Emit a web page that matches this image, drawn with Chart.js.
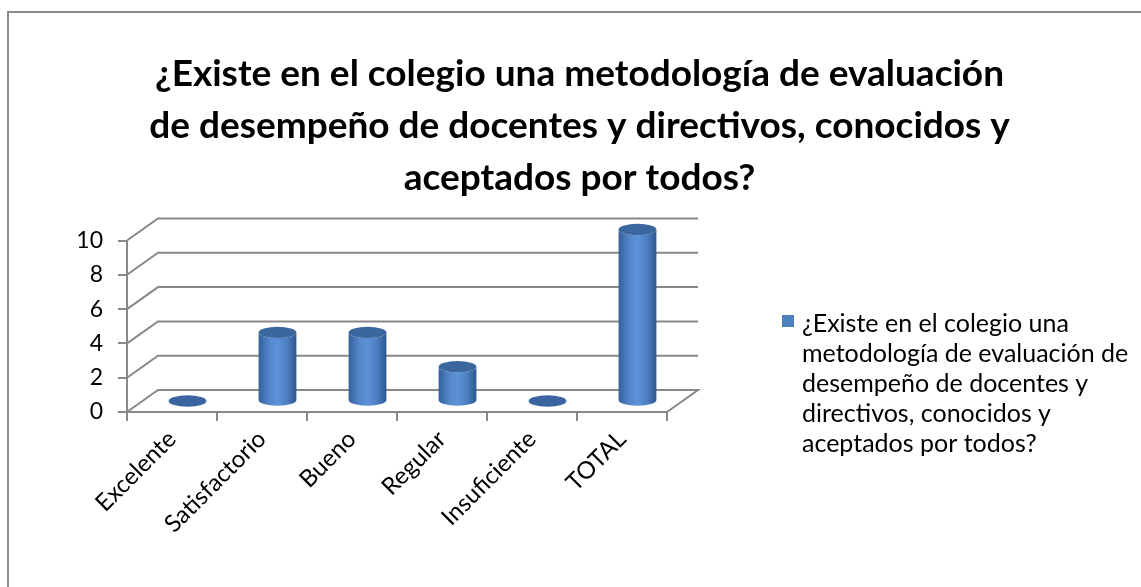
<!DOCTYPE html>
<html>
<head>
<meta charset="utf-8">
<title>Evaluación de desempeño</title>
<script src="https://cdn.jsdelivr.net/npm/chart.js@4.4.1/dist/chart.umd.min.js"></script>
<style>
  html, body { margin: 0; padding: 0; background: #fff; }
  #wrap { position: relative; width: 1141px; height: 587px; }
  #frame {
    position: absolute; left: 7px; top: 11px; right: 0; bottom: 0;
    border-left: 2px solid #8c8c8c; border-top: 2px solid #8c8c8c;
    pointer-events: none;
  }
</style>
</head>
<body>
<div id="wrap">
  <canvas id="chart"></canvas>
  <div id="frame"></div>
</div>
<script>
  // Data
  const categories = ['Excelente', 'Satisfactorio', 'Bueno', 'Regular', 'Insuficiente', 'TOTAL'];
  const values = [0, 4, 4, 2, 0, 10];
  const seriesLabel = '¿Existe en el colegio una metodología de evaluación de desempeño de docentes y directivos, conocidos y aceptados por todos?';
  const titleLines = [
    '¿Existe en el colegio una metodología de evaluación',
    'de desempeño de docentes y directivos, conocidos y',
    'aceptados por todos?'
  ];
  const legendLines = [
    '¿Existe en el colegio una',
    'metodología de evaluación de',
    'desempeño de docentes y',
    'directivos, conocidos y',
    'aceptados por todos?'
  ];

  // 3D look
  const DEPTH_X = 31;
  const DEPTH_Y = 22;
  const GRID_COLOR = '#888888';
  const SERIES_COLOR = '#4f81bd';
  const FONT = 'Lato, "Open Sans", sans-serif';

  Chart.defaults.font.family = FONT;
  Chart.defaults.color = '#000';

  // back wall + side wall + floor drawn from the y scale ticks
  const wallPlugin = {
    id: 'wall3d',
    beforeDatasetsDraw(chart) {
      const { ctx, chartArea: a, scales: { y } } = chart;
      ctx.save();
      ctx.strokeStyle = GRID_COLOR;
      ctx.lineWidth = 2;
      y.ticks.forEach(t => {
        const py = y.getPixelForValue(t.value);
        ctx.beginPath();
        ctx.moveTo(a.left, py);
        ctx.lineTo(a.left + DEPTH_X, py - DEPTH_Y);
        ctx.lineTo(a.right + DEPTH_X, py - DEPTH_Y);
        if (t.value === y.min) ctx.lineTo(a.right, py);
        ctx.stroke();
      });
      ctx.restore();
    }
  };

  // bars as cylinders, placed halfway into the depth
  const cylinderPlugin = {
    id: 'cylinders',
    afterDatasetsDraw(chart) {
      const { ctx } = chart;
      const meta = chart.getDatasetMeta(0);
      ctx.save();
      meta.data.forEach((bar, i) => {
        const cx = bar.x + DEPTH_X / 2;
        const r = bar.width / 2;
        const ry = r * 0.3;
        const top = bar.y - DEPTH_Y / 2;
        const base = bar.base - DEPTH_Y / 2;
        if (values[i] === 0) {
          ctx.fillStyle = '#3a65a0';
          ctx.beginPath();
          ctx.ellipse(cx, base, r, ry, 0, 0, Math.PI * 2);
          ctx.fill();
          return;
        }
        const g = ctx.createLinearGradient(cx - r, 0, cx + r, 0);
        g.addColorStop(0, '#33609a');
        g.addColorStop(0.3, '#5688cc');
        g.addColorStop(0.5, '#5d92d9');
        g.addColorStop(0.75, '#4d7ec0');
        g.addColorStop(1, '#2c5890');
        ctx.fillStyle = g;
        ctx.beginPath();
        ctx.moveTo(cx - r, top);
        ctx.lineTo(cx - r, base);
        ctx.ellipse(cx, base, r, ry, 0, Math.PI, 0, true);
        ctx.lineTo(cx + r, top);
        ctx.ellipse(cx, top, r, ry, 0, 0, Math.PI, false);
        ctx.closePath();
        ctx.fill();
        ctx.fillStyle = '#3b679f';
        ctx.beginPath();
        ctx.ellipse(cx, top, r, ry, 0, 0, Math.PI * 2);
        ctx.fill();
      });
      ctx.restore();
    }
  };

  // wrapped legend on the right
  const legendPlugin = {
    id: 'wrapLegend',
    afterDraw(chart) {
      const { ctx, chartArea: a } = chart;
      const x0 = a.right + 115;
      const y0 = 324;
      ctx.save();
      ctx.fillStyle = SERIES_COLOR;
      ctx.fillRect(x0, y0 - 9, 12, 12);
      ctx.fillStyle = '#000';
      ctx.font = '25px ' + FONT;
      ctx.textBaseline = 'middle';
      legendLines.forEach((line, i) => {
        ctx.fillText(line, x0 + 20, y0 + i * 30);
      });
      ctx.restore();
    }
  };

  new Chart(document.getElementById('chart'), {
    type: 'bar',
    data: {
      labels: categories,
      datasets: [{
        label: seriesLabel,
        data: values,
        backgroundColor: 'rgba(0,0,0,0)',
        borderWidth: 0,
        barPercentage: 0.42,
        categoryPercentage: 1
      }]
    },
    options: {
      responsive: true,
      maintainAspectRatio: false,
      animation: false,
      layout: { padding: { left: 18, top: 0, right: 0, bottom: 0 } },
      plugins: {
        legend: { display: false },
        tooltip: { enabled: false },
        title: {
          display: true,
          text: titleLines,
          color: '#000',
          font: { size: 37, weight: 'bold', lineHeight: 1.41 },
          padding: { top: 48, bottom: 36 }
        }
      },
      scales: {
        x: {
          grid: { drawOnChartArea: false, drawTicks: true, tickLength: 9, color: GRID_COLOR, lineWidth: 2 },
          border: { display: true, color: GRID_COLOR, width: 2 },
          ticks: { minRotation: 45, maxRotation: 45, padding: 4, font: { size: 24 } },
          afterFit(s) { s.height = 175; }
        },
        y: {
          min: 0,
          max: 10,
          grid: { drawOnChartArea: false, drawTicks: true, tickLength: 9, color: GRID_COLOR, lineWidth: 2 },
          border: { display: true, color: GRID_COLOR, width: 2 },
          ticks: { stepSize: 2, padding: 15, font: { size: 23 } },
          afterFit(s) { s.width = 109; }
        },
        pad: {
          position: 'right',
          display: true,
          grid: { display: false },
          border: { display: false },
          ticks: { display: false },
          afterFit(s) { s.width = 474; }
        }
      }
    },
    plugins: [wallPlugin, cylinderPlugin, legendPlugin]
  });
</script>
</body>
</html>
